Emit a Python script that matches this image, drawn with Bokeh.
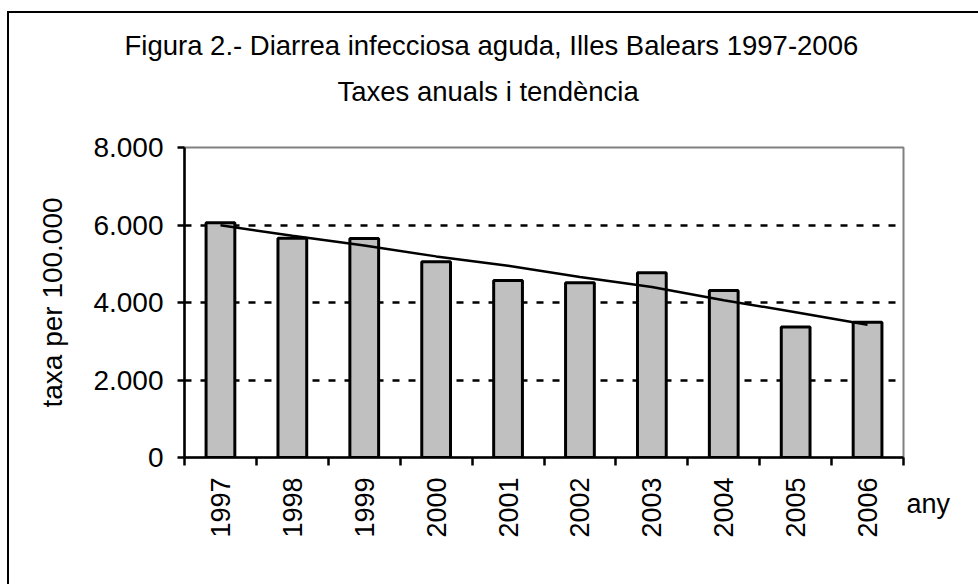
from bokeh.plotting import figure
from bokeh.models import (Range1d, FixedTicker, LinearAxis, ColumnDataSource, Title,
                          InlineStyleSheet)
from bokeh.embed import file_html
from bokeh.resources import INLINE
import math

# ---- data ----
years = ["1997", "1998", "1999", "2000", "2001", "2002", "2003", "2004", "2005", "2006"]
rates = [6060, 5660, 5650, 5050, 4570, 4510, 4770, 4310, 3370, 3490]
trend = [5995, 5720, 5470, 5190, 4950, 4660, 4400, 4060, 3750, 3425]
y_ticks = [0, 2000, 4000, 6000, 8000]
y_tick_labels = ["0", "2.000", "4.000", "6.000", "8.000"]
title_line1 = "Figura 2.- Diarrea infecciosa aguda, Illes Balears 1997-2006"
title_line2 = "Taxes anuals i tendència"
y_title = "taxa per 100.000"
x_title = "any"

FONT = "Liberation Sans"

centers = [i + 0.5 for i in range(len(years))]
bounds = [i for i in range(len(years) + 1)]

src = ColumnDataSource(dict(x=centers, rate=rates, trend=trend))

p = figure(width=978, height=584, output_backend="svg", toolbar_location=None,
           x_range=Range1d(0, len(years)), y_range=Range1d(0, 8000),
           min_border_left=184, min_border_right=75, min_border_top=147,
           min_border_bottom=127, title=None)
p.background_fill_color = "white"
p.border_fill_color = "white"
p.outline_line_color = "#808080"
p.outline_line_width = 2

# outer chart border (top and left edges visible; the rest lies outside the window)
p.stylesheets = [InlineStyleSheet(css="""
:host { position: relative; }
:host::after {
  content: ""; position: absolute; left: 7px; top: 11px;
  width: 971px; height: 573px; box-sizing: border-box;
  border-top: 2.5px solid black; border-left: 2.5px solid black;
  pointer-events: none;
}
""")]

# bars and trend
p.vbar(x="x", top="rate", width=0.4, source=src, fill_color="#C0C0C0",
       line_color="black", line_width=3)
p.line(x="x", y="trend", source=src, line_color="black", line_width=2.5)

# grid
p.xgrid.visible = False
p.ygrid.ticker = FixedTicker(ticks=y_ticks[1:])
p.ygrid.grid_line_color = "black"
p.ygrid.grid_line_width = 2.5
p.ygrid.grid_line_dash = "7 9"

# y axis
ya = p.yaxis[0]
ya.ticker = FixedTicker(ticks=y_ticks)
ya.major_label_overrides = {t: l for t, l in zip(y_ticks, y_tick_labels)}
ya.axis_line_width = 2.5
ya.axis_line_color = "black"
ya.major_tick_line_width = 2.5
ya.major_tick_line_color = "black"
ya.major_tick_in = 0
ya.major_tick_out = 7
ya.minor_tick_line_color = None
ya.major_label_text_font = FONT
ya.major_label_text_font_size = "28px"
ya.major_label_text_color = "black"
ya.major_label_standoff = 14
ya.axis_label = y_title
ya.axis_label_text_font = FONT
ya.axis_label_text_font_size = "28px"
ya.axis_label_text_font_style = "normal"
ya.axis_label_text_color = "black"
ya.axis_label_standoff = 22

# x axis
xa = p.xaxis[0]
xa.ticker = FixedTicker(ticks=centers, minor_ticks=bounds)
xa.major_label_overrides = {c: y for c, y in zip(centers, years)}
xa.major_label_orientation = math.pi / 2
xa.axis_line_width = 2.5
xa.axis_line_color = "black"
xa.major_tick_line_color = None
xa.major_tick_out = 0
xa.major_tick_in = 0
xa.minor_tick_line_color = "black"
xa.minor_tick_line_width = 2.5
xa.minor_tick_out = 8
xa.minor_tick_in = 0
xa.major_label_text_font = FONT
xa.major_label_text_font_size = "27px"
xa.major_label_text_color = "black"
xa.major_label_standoff = 12

# x axis name "any", right of the x axis (label of a bare right axis at y=0)
ra = LinearAxis(ticker=FixedTicker(ticks=[0]),
                major_label_overrides={0: "\n\n\n" + x_title})
ra.axis_line_color = None
ra.major_tick_line_color = None
ra.minor_tick_line_color = None
ra.major_tick_out = 0
ra.major_tick_in = 0
ra.major_label_standoff = 3
ra.major_label_orientation = "horizontal"
ra.major_label_text_font = FONT
ra.major_label_text_font_size = "27px"
ra.major_label_text_line_height = 1.03
ra.major_label_text_color = "black"
p.add_layout(ra, "right")

# titles: added innermost first (spacer, line 2, line 1)
TS = dict(text_font=FONT, text_font_size="27.5px", text_font_style="normal",
          text_color="black")
p.add_layout(Title(text=" ", standoff=8, **TS), "above")
p.add_layout(Title(text=title_line2, align="left", offset=153, standoff=0, **TS), "above")
p.add_layout(Title(text=title_line1, align="left", offset=-60, standoff=25, **TS), "above")

open("out.html", "w").write(file_html(p, INLINE))
